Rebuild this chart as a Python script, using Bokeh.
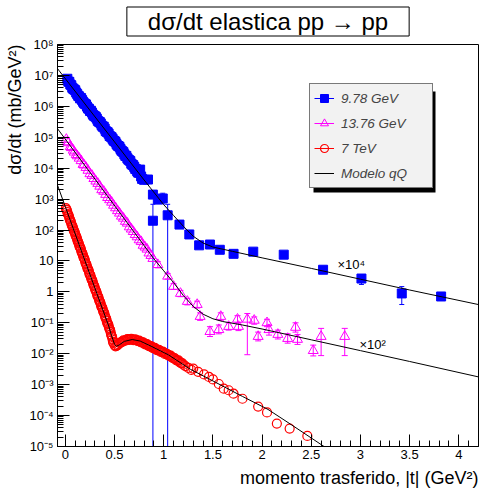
import math
from bokeh.plotting import figure
from bokeh.models import Range1d, FixedTicker, Label, Legend, LegendItem, BoxAnnotation, Title
from bokeh.embed import file_html
from bokeh.resources import INLINE

# ---------------- data (plotted values, already scaled) ----------------
# 9.78 GeV  (x 10^4)
blue_t = [0.02, 0.03, 0.05, 0.06, 0.08, 0.09, 0.11, 0.12, 0.14, 0.15, 0.17, 0.19,
          0.20, 0.22, 0.24, 0.25, 0.27, 0.29, 0.30, 0.32, 0.34, 0.36, 0.38, 0.40,
          0.42, 0.44, 0.46, 0.48, 0.50, 0.52, 0.54, 0.56, 0.58, 0.60, 0.63, 0.65,
          0.68, 0.70, 0.73, 0.75, 0.78, 0.80, 0.84, 0.89, 0.94, 0.99, 0.89, 1.04,
          1.16, 1.26, 1.36, 1.47, 1.57, 1.71, 1.91, 2.22, 2.62, 3.01, 3.42, 3.82,
          0.04, 0.07, 0.10, 0.13, 0.16, 0.18, 0.21, 0.23, 0.26, 0.28, 0.31, 0.33,
          0.35, 0.37, 0.39, 0.41, 0.43, 0.45, 0.47, 0.49, 0.51, 0.53, 0.55, 0.57,
          0.59, 0.61, 0.62, 0.64, 0.66, 0.67, 0.69, 0.71, 0.72, 0.74, 0.76, 0.77]
blue_y = [7.8e6, 6.3e6, 5.1e6, 4.8e6, 3.7e6, 3.5e6, 2.8e6, 2.5e6, 2.1e6, 1.8e6, 1.6e6, 1.26e6,
          1.2e6, 9.8e5, 8.3e5, 7.1e5, 6.3e5, 5.0e5, 4.8e5, 4.0e5, 3.2e5, 2.8e5, 2.2e5, 1.9e5,
          1.5e5, 1.3e5, 1.05e5, 8.9e4, 7.6e4, 6.0e4, 5.2e4, 4.2e4, 3.5e4, 2.8e4, 2.1e4, 1.8e4,
          1.3e4, 1.1e4, 7.9e3, 7.1e3, 4.5e3, 4.2e3, 4.3e3, 1.4e3, 9.8e2, 1.05e3, 2.0e2, 3.0e2,
          1.5e2, 72, 32, 34, 23, 17, 20, 16, 5.2, 2.7, 0.89, 0.71,
          6.2e6, 4.0e6, 3.3e6, 2.2e6, 1.85e6, 1.4e6, 1.15e6, 8.6e5, 7.2e5, 5.4e5, 4.5e5, 3.4e5,
          3.1e5, 2.4e5, 2.2e5, 1.6e5, 1.45e5, 1.1e5, 1.0e5, 7.8e4, 7.0e4, 5.4e4, 4.9e4, 3.7e4,
          3.3e4, 2.5e4, 2.5e4, 1.9e4, 1.7e4, 1.4e4, 1.25e4, 9.5e3, 9.2e3, 7.2e3, 9.0e3, 5.4e3]
blue_bar_t = [0.89, 1.04, 0.94, 0.99, 3.01, 3.42]
blue_bar_lo = [1e-7, 1e-7, 7.0e2, 7.0e2, 1.74, 0.39]
blue_bar_hi = [6.8e2, 6.8e2, 1.3e3, 1.55e3, 3.3, 1.48]

# 13.76 GeV  (x 10^2)
mag_t = [0.01, 0.02, 0.03, 0.05, 0.06, 0.08, 0.09, 0.11, 0.12, 0.14, 0.16, 0.18,
         0.19, 0.21, 0.23, 0.25, 0.27, 0.29, 0.31, 0.33, 0.35, 0.37, 0.39, 0.41,
         0.43, 0.45, 0.47, 0.49, 0.51, 0.53, 0.55, 0.57, 0.59, 0.61, 0.63, 0.65,
         0.67, 0.69, 0.71, 0.73, 0.75, 0.77, 0.79, 0.81, 0.83, 0.85, 0.87, 0.89]
mag_y = [8.5e4, 7.1e4, 6.6e4, 5.0e4, 4.6e4, 3.8e4, 3.3e4, 2.75e4, 2.5e4, 2.1e4, 1.74e4, 1.32e4,
         1.26e4, 1.05e4, 8.5e3, 6.6e3, 5.8e3, 4.6e3, 3.8e3, 3.2e3, 2.6e3, 2.0e3, 1.78e3, 1.41e3,
         1.12e3, 9.5e2, 7.9e2, 6.3e2, 5.2e2, 4.2e2, 3.5e2, 2.8e2, 2.4e2, 1.9e2, 1.66e2, 1.26e2,
         1.07e2, 89, 71, 60, 48, 42, 32, 28, 24, 18, 15, 12]
mag_tail_t = [0.94, 1.04, 1.10, 1.17, 1.24, 1.34, 1.37, 1.47, 1.56, 1.58, 1.66, 1.75, 1.76,
              1.85, 1.92, 1.96, 2.05, 2.07, 2.16, 2.26, 2.34, 2.36, 2.52, 2.60, 2.84]
mag_tail_y = [7.6, 3.2, 1.5, 0.89, 0.49, 0.39, 0.16, 0.052, 0.060, 0.16, 0.076, 0.13, 0.076,
              0.13, 0.12, 0.036, 0.10, 0.060, 0.042, 0.031, 0.071, 0.029, 0.0126, 0.036, 0.036]
mag_tail_lo = [6.0, 2.6, 1.2, 0.70, 0.38, 0.30, 0.12, 0.036, 0.044, 0.12, 0.058, 0.10, 0.056,
               0.0093, 0.09, 0.026, 0.075, 0.040, 0.030, 0.022, 0.050, 0.020, 0.0085, 0.0087, 0.0087]
mag_tail_hi = [9.5, 3.9, 1.85, 1.12, 0.62, 0.50, 0.21, 0.075, 0.085, 0.21, 0.10, 0.17, 0.10,
               0.20, 0.155, 0.050, 0.13, 0.085, 0.058, 0.044, 0.10, 0.042, 0.019, 0.066, 0.066]

# 7 TeV  (x 1)
red_t = [0.005, 0.01, 0.02, 0.03, 0.04, 0.05, 0.06, 0.07, 0.08, 0.09, 0.10, 0.11, 0.12,
         0.13, 0.14, 0.15, 0.16, 0.17, 0.18, 0.19, 0.20, 0.21, 0.22, 0.23, 0.24, 0.25,
         0.26, 0.27, 0.28, 0.29, 0.30, 0.31, 0.32, 0.33, 0.34, 0.35, 0.36, 0.37, 0.38,
         0.39, 0.40, 0.41, 0.42, 0.43, 0.44, 0.45, 0.46, 0.47, 0.48, 0.49, 0.50, 0.51,
         0.52, 0.53, 0.54, 0.56, 0.58, 0.60, 0.62, 0.64, 0.66, 0.68, 0.70, 0.72, 0.74,
         0.76, 0.78, 0.80, 0.82, 0.84, 0.86, 0.88, 0.90, 0.92, 0.94, 0.96, 0.98, 1.00,
         1.02, 1.04, 1.06, 1.08, 1.10, 1.12, 1.14, 1.16, 1.18, 1.20, 1.22, 1.25, 1.28,
         1.30, 1.35, 1.41, 1.46, 1.50, 1.56, 1.61, 1.66, 1.71, 1.80, 1.96, 2.05, 2.15,
         2.28, 2.46,
         0.015, 0.025, 0.035, 0.045, 0.055, 0.065, 0.075, 0.085, 0.095, 0.105, 0.115, 0.125,
         0.135, 0.145, 0.155, 0.165, 0.175, 0.185, 0.195, 0.205, 0.215, 0.225, 0.235, 0.245,
         0.255, 0.265, 0.275, 0.285, 0.295, 0.305, 0.315, 0.325, 0.335, 0.345, 0.355, 0.365,
         0.375, 0.385, 0.395, 0.405, 0.415, 0.425, 0.435, 0.445, 0.455, 0.465, 0.475, 0.485,
         0.55, 0.57, 0.59, 0.61, 0.63, 0.65, 0.67, 0.69, 0.71, 0.73, 0.75, 0.77, 0.79,
         0.81, 0.83, 0.85, 0.87, 0.89, 0.91, 0.93, 0.95, 0.97, 0.99, 1.01, 1.03, 1.05,
         1.07, 1.09, 1.11, 1.13, 1.15, 1.17, 1.19]
red_y = [5.1e2, 4.6e2, 3.8e2, 3.1e2, 2.5e2, 2.0e2, 1.66e2, 1.35e2, 1.12e2, 91, 74, 62, 50,
         41, 33, 27.5, 22.4, 18.2, 14.8, 12.3, 10, 8.1, 6.6, 5.5, 4.5, 3.6,
         2.95, 2.45, 2.0, 1.62, 1.32, 1.10, 0.89, 0.72, 0.60, 0.49, 0.40, 0.32, 0.27,
         0.22, 0.178, 0.145, 0.117, 0.095, 0.079, 0.063, 0.050, 0.038, 0.029, 0.0224, 0.019, 0.0174,
         0.0178, 0.019, 0.0204, 0.0229, 0.025, 0.0263, 0.0282, 0.0288, 0.0295, 0.0288, 0.0282, 0.0275, 0.0263,
         0.0245, 0.0234, 0.0219, 0.0204, 0.0191, 0.0174, 0.0166, 0.0155, 0.0141, 0.0132, 0.0126, 0.0115, 0.011,
         0.010, 0.0093, 0.0087, 0.0079, 0.0072, 0.0066, 0.0060, 0.0055, 0.0050, 0.0044, 0.0040, 0.00347, 0.0030,
         0.0033, 0.0026, 0.00214, 0.00178, 0.00148, 0.00105, 0.00074, 0.00066, 0.00051, 0.00035, 1.95e-4, 1.26e-4, 5.5e-5,
         3.8e-5, 2.2e-5,
         4.4e2, 3.3e2, 2.9e2, 2.2e2, 1.9e2, 1.45e2, 1.26e2, 97, 86, 66, 57, 44,
         38, 29, 26, 19.5, 17, 13, 11.5, 8.6, 7.6, 5.7, 5.2, 3.8, 3.4, 2.6, 2.3, 1.72, 1.52,
         1.15, 1.03, 0.77, 0.69, 0.52, 0.46, 0.34, 0.31, 0.23, 0.21, 0.155, 0.136, 0.10, 0.091,
         0.068, 0.059, 0.042, 0.035, 0.024,
         0.0225, 0.0232, 0.0272, 0.0265, 0.0298, 0.0282, 0.0305, 0.0276, 0.0290, 0.0262, 0.0265,
         0.0232, 0.0235, 0.0202, 0.0206, 0.0175, 0.0178, 0.0152, 0.0155, 0.0130, 0.0134, 0.0114,
         0.0117, 0.0098, 0.0100, 0.0086, 0.0087, 0.0073, 0.0072, 0.0061, 0.0061, 0.0051, 0.0049]

# "Modelo qQ" curves
model_blue_t = [-0.08, 0.2, 0.5, 0.8, 1.0, 1.1, 1.2, 1.3, 1.4, 1.5, 1.7, 2.0, 2.5, 3.0, 3.5, 4.2]
model_blue_y = [1.66e7, 1.19e6, 7.08e4, 4.17e3, 661, 295, 132, 63.1, 38.0, 28.2, 20.4, 12.6, 5.75, 2.57, 1.15, 0.389]
model_mag_t = [-0.08, 0.3, 0.7, 0.9, 1.0, 1.1, 1.2, 1.3, 1.4, 1.5, 1.6, 1.8, 2.0, 2.5, 3.0, 3.5, 4.2]
model_mag_y = [1.9e5, 4.47e3, 85, 11.7, 4.8, 2.0, 0.76, 0.34, 0.19, 0.135, 0.11, 0.085, 0.063, 0.0282, 0.0126, 0.00562, 0.00178]
model_red_t = [-0.08, 0.0, 0.40, 0.44, 0.47, 0.50, 0.52, 0.55, 0.60, 0.68, 0.76, 0.88, 1.05, 1.27, 1.50, 1.80, 2.06, 2.30, 2.70]
model_red_y = [2.82e3, 562, 0.178, 0.0794, 0.038, 0.020, 0.0174, 0.0195, 0.0251, 0.0288, 0.0257, 0.017, 0.00912, 0.00316, 0.00132, 4.17e-4, 1.58e-4, 5.0e-5, 7.1e-6]

legend_labels = ["9.78 GeV", "13.76 GeV", "7 TeV", "Modelo qQ"]
title_text = "dσ/dt elastica pp \u2192 pp"
x_title = "momento trasferido, |t| (GeV²)"
y_title = "dσ/dt (mb/GeV²)"
x_ticks = [0, 0.5, 1.0, 1.5, 2.0, 2.5, 3.0, 3.5, 4.0]
x_tick_labels = ["0", "0.5", "1", "1.5", "2", "2.5", "3", "3.5", "4"]
y_exponents = list(range(-5, 9))
y_tick_labels = ["10⁻⁵", "10⁻⁴", "10⁻³", "10⁻²", "10⁻¹", "1", "10", "10²", "10³",
                 "10⁴", "10⁵", "10⁶", "10⁷", "10⁸"]
scale_labels = ["×10⁴", "×10²"]

# ---------------- layout ----------------
X_MIN, X_MAX = -0.08, 4.2
Y_MIN, Y_MAX = 1e-5, 1e8
FW, FH = 421, 402
BL, BR, BT, BB = 57, 2, 43, 48
FL_PAGE, FT_PAGE = BL, BT

def xd(px):
    return X_MIN + (px - FL_PAGE) * (X_MAX - X_MIN) / FW

def yd(py):
    return 10 ** (math.log10(Y_MAX) - (py - FT_PAGE) * (math.log10(Y_MAX) - math.log10(Y_MIN)) / FH)

FONT = "Liberation Sans"
BLUE, MAG, RED = "#0000ff", "#ff00ff", "#ff0000"

p = figure(frame_width=FW, frame_height=FH, x_range=Range1d(X_MIN, X_MAX),
           y_range=Range1d(Y_MIN, Y_MAX), y_axis_type="log", output_backend="svg",
           toolbar_location=None, min_border_left=BL, min_border_right=BR,
           min_border_top=BT, min_border_bottom=BB, title=None)
p.grid.visible = False
p.outline_line_color = "black"
p.outline_line_width = 1
p.background_fill_color = "white"
p.border_fill_color = "white"

y_ticks = [10.0 ** k for k in y_exponents]
y_minor = [m * 10.0 ** k for k in y_exponents[:-1] for m in range(2, 10)]
x_minor = [round(0.1 * i, 1) for i in range(0, 43)]
p.xaxis.ticker = FixedTicker(ticks=x_ticks, minor_ticks=x_minor)
p.xaxis.major_label_overrides = dict(zip(x_ticks, x_tick_labels))
p.yaxis.ticker = FixedTicker(ticks=y_ticks, minor_ticks=y_minor)
p.yaxis.major_label_overrides = dict(zip(y_ticks, y_tick_labels))
for ax in (p.xaxis[0], p.yaxis[0]):
    ax.major_tick_in = 12
    ax.major_tick_out = 0
    ax.minor_tick_in = 6
    ax.minor_tick_out = 0
    ax.axis_line_color = "black"
    ax.major_tick_line_color = "black"
    ax.minor_tick_line_color = "black"
    ax.major_label_text_font = FONT
    ax.major_label_text_font_size = "13px"
    ax.major_label_text_color = "black"
p.xaxis.major_label_standoff = 3
p.yaxis.major_label_standoff = 4

# ---------------- data marks ----------------
blue_err = p.segment(x0=blue_bar_t, y0=blue_bar_lo, x1=blue_bar_t, y1=blue_bar_hi,
                     line_color=BLUE, line_width=1)
p.scatter(x=blue_bar_t + blue_bar_t, y=blue_bar_lo + blue_bar_hi, marker="dash",
          size=5, line_color=BLUE, line_width=1)
blue_sc = p.scatter(x=blue_t, y=blue_y, marker="square", size=9,
                    fill_color=BLUE, line_color=BLUE)

mag_err = p.segment(x0=mag_tail_t, y0=mag_tail_lo, x1=mag_tail_t, y1=mag_tail_hi,
                    line_color=MAG, line_width=1)
p.scatter(x=mag_tail_t + mag_tail_t, y=mag_tail_lo + mag_tail_hi, marker="dash",
          size=6, line_color=MAG, line_width=1)
mag_sc = p.scatter(x=mag_t + mag_tail_t, y=mag_y + mag_tail_y, marker="triangle", size=10,
                   fill_color=None, line_color=MAG, line_width=1)

red_err = p.segment(x0=red_t, y0=red_y, x1=red_t, y1=red_y, line_color=RED, line_width=1)
red_sc = p.scatter(x=red_t, y=red_y, marker="circle", size=9,
                   fill_color=None, line_color=RED, line_width=1.2)

model_r = p.line(model_blue_t, model_blue_y, line_color="black", line_width=1)
p.line(model_mag_t, model_mag_y, line_color="black", line_width=1)
p.line(model_red_t, model_red_y, line_color="black", line_width=1)

# ---------------- annotations ----------------
p.add_layout(BoxAnnotation(left=xd(313), right=xd(435), top=yd(90), bottom=yd(191),
                           fill_color="black", fill_alpha=1.0, line_alpha=0))
# title shadow strips (left and bottom of the title box)
p.add_layout(BoxAnnotation(left=xd(122), right=xd(125), top=yd(8), bottom=yd(38),
                           fill_color="black", fill_alpha=1.0, line_alpha=0))
p.add_layout(BoxAnnotation(left=xd(122), right=xd(407), top=yd(35), bottom=yd(38),
                           fill_color="black", fill_alpha=1.0, line_alpha=0))
legend = Legend(items=[LegendItem(label=legend_labels[0], renderers=[blue_err, blue_sc]),
                       LegendItem(label=legend_labels[1], renderers=[mag_err, mag_sc]),
                       LegendItem(label=legend_labels[2], renderers=[red_err, red_sc]),
                       LegendItem(label=legend_labels[3], renderers=[model_r])],
                location=(309 - FL_PAGE, (BT + FH) - 187), margin=0, padding=4, spacing=5,
                label_height=20, glyph_height=20, glyph_width=20, label_standoff=7,
                label_width=87, label_text_font=FONT, label_text_font_style="italic",
                label_text_font_size="13.5px", background_fill_color="#f2f2f2",
                background_fill_alpha=1.0, border_line_color="black", border_line_width=1)
p.add_layout(legend)

common = dict(text_font=FONT, text_color="black")
p.add_layout(Label(x=xd(337), y=yd(263), text=scale_labels[0], text_align="left",
                   text_baseline="middle", text_font_size="13px", **common))
p.add_layout(Label(x=xd(359), y=yd(343), text=scale_labels[1], text_align="left",
                   text_baseline="middle", text_font_size="13px", **common))

# titles in the side panels (outside the frame)
p.add_layout(Title(text=title_text, align="center", vertical_align="top", text_font_size="24px",
                   text_font_style="normal", background_fill_color="white",
                   border_line_color="black", border_line_width=1, padding=(21, 1),
                   standoff=13, **common), "above")
p.add_layout(Title(text=x_title, align="right", text_font_size="18px",
                   text_font_style="normal", standoff=9, **common), "below")
p.add_layout(Title(text=y_title, align="right", text_font_size="18px",
                   text_font_style="normal", standoff=4, **common), "left")

open("out.html", "w").write(file_html(p, INLINE))
